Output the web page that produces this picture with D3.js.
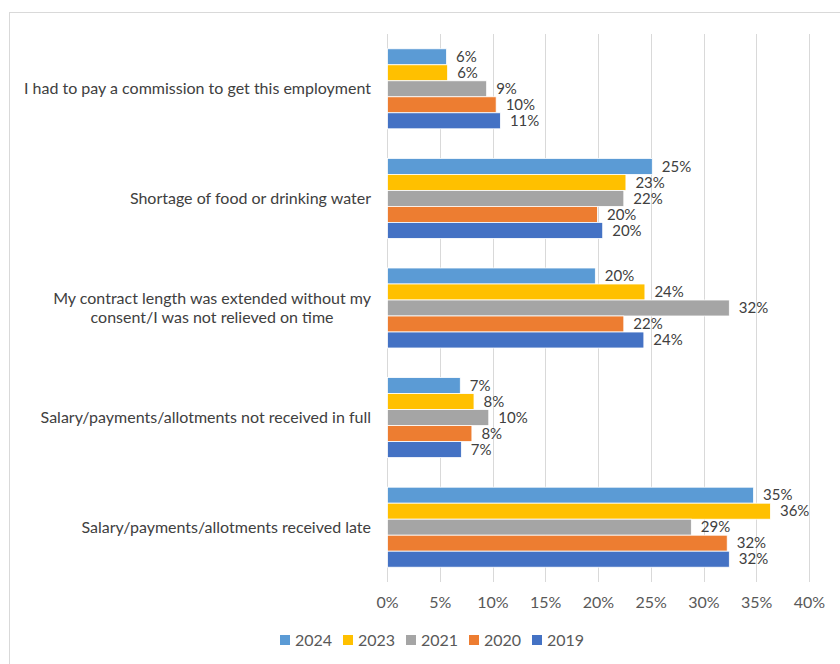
<!DOCTYPE html>
<html>
<head>
<meta charset="utf-8">
<script src="https://cdn.jsdelivr.net/npm/d3@7"></script>
<style>
  html, body { margin: 0; padding: 0; background: #fff; }
  svg { display: block; }
  text { font-family: Lato, "Open Sans", sans-serif; }
</style>
</head>
<body>
<svg id="chart" width="840" height="664"></svg>
<script>
// Reported problems, top to bottom
const categories = [
  "I had to pay a commission to get this employment",
  "Shortage of food or drinking water",
  "My contract length was extended without my\nconsent/I was not relieved on time",
  "Salary/payments/allotments not received in full",
  "Salary/payments/allotments received late"
];

// Survey years, drawn top to bottom inside each group
const years = ["2024", "2023", "2021", "2020", "2019"];

// Share of respondents (%) per category, one array per year
const v2024 = [5.6, 25.1, 19.7, 6.9, 34.7];
const v2023 = [5.7, 22.6, 24.4, 8.2, 36.3];
const v2021 = [9.4, 22.4, 32.4, 9.6, 28.8];
const v2020 = [10.3, 19.9, 22.4, 8.0, 32.2];
const v2019 = [10.7, 20.4, 24.3, 7.0, 32.4];

const xTicks = [0, 5, 10, 15, 20, 25, 30, 35, 40];
const colors = ["#5B9BD5", "#FFC000", "#A5A5A5", "#ED7D31", "#4472C4"];

const seriesValues = [v2024, v2023, v2021, v2020, v2019];
const rows = categories.map((c, i) => ({
  category: c,
  values: years.map((y, j) => ({ year: y, value: seriesValues[j][i] }))
}));

const FONT_SIZE = "16px";
const VALUE_FONT_SIZE = "15px";
const svg = d3.select("#chart");
const plot = { left: 387, right: 809, top: 34, bottom: 582 };

// Outer chart frame
svg.append("rect")
  .attr("x", 9.5).attr("y", 12.5)
  .attr("width", 840).attr("height", 700)
  .attr("fill", "#fff").attr("stroke", "#d9d9d9").attr("stroke-width", 1);

const x = d3.scaleLinear().domain([0, 40]).range([plot.left, plot.right]);
const y0 = d3.scaleBand().domain(categories).range([plot.top, plot.bottom])
  .paddingInner(0.27).paddingOuter(0.135);
const y1 = d3.scaleBand().domain(years).range([0, y0.bandwidth()]);

// Vertical gridlines
svg.append("g")
  .selectAll("line")
  .data(xTicks)
  .join("line")
  .attr("x1", d => Math.round(x(d)) + 0.5)
  .attr("x2", d => Math.round(x(d)) + 0.5)
  .attr("y1", plot.top).attr("y2", plot.bottom)
  .attr("stroke", "#d9d9d9").attr("stroke-width", 1);

// Bottom axis: tick labels only
const xAxis = svg.append("g")
  .attr("transform", `translate(0,${plot.bottom})`)
  .call(d3.axisBottom(x).tickValues(xTicks).tickFormat(d => d + "%").tickSize(0).tickPadding(15));
xAxis.select(".domain").remove();
xAxis.selectAll("text")
  .attr("fill", "#595959")
  .style("font-size", FONT_SIZE)
  .style("font-family", "Lato, 'Open Sans', sans-serif");

// Bars and value labels
const groups = svg.append("g")
  .selectAll("g")
  .data(rows)
  .join("g")
  .attr("transform", d => `translate(0,${y0(d.category)})`);

groups.selectAll("rect")
  .data(d => d.values)
  .join("rect")
  .attr("x", x(0) + 0.5)
  .attr("y", d => y1(d.year))
  .attr("width", d => x(d.value) - x(0))
  .attr("height", y1.bandwidth())
  .attr("fill", (d, i) => colors[i])
  .attr("stroke", "#fff").attr("stroke-width", 0.8);

groups.selectAll("text.val")
  .data(d => d.values)
  .join("text")
  .attr("class", "val")
  .attr("x", d => x(d.value) + 10)
  .attr("y", d => y1(d.year) + y1.bandwidth() / 2)
  .attr("dy", "0.35em")
  .attr("fill", "#404040")
  .style("font-size", VALUE_FONT_SIZE)
  .text(d => d3.format(".0f")(d.value) + "%");

// Category labels, right-aligned; wrapped labels centred on their widest line
const catLabels = svg.append("g")
  .selectAll("text")
  .data(categories)
  .join("text")
  .attr("fill", "#404040")
  .style("font-size", FONT_SIZE);

catLabels.each(function (d) {
  const lines = d.split("\n");
  const t = d3.select(this);
  const cy = y0(d) + y0.bandwidth() / 2;
  const lh = 19;
  const startY = cy - (lines.length - 1) * lh / 2;
  const tspans = lines.map((ln, i) =>
    t.append("tspan").attr("y", startY + i * lh).attr("dy", "0.35em").text(ln));
  if (lines.length === 1) {
    t.attr("text-anchor", "end");
    tspans[0].attr("x", 371);
  } else {
    const widths = tspans.map(s => s.node().getComputedTextLength());
    const center = 371 - d3.max(widths) / 2;
    t.attr("text-anchor", "middle");
    tspans.forEach(s => s.attr("x", center));
  }
});

// Legend
const legend = svg.append("g").attr("transform", "translate(280,640)");
const items = legend.selectAll("g")
  .data(years)
  .join("g")
  .attr("transform", (d, i) => `translate(${i * 63},0)`);
items.append("rect")
  .attr("x", 0).attr("y", -5).attr("width", 10).attr("height", 10)
  .attr("fill", (d, i) => colors[i]);
items.append("text")
  .attr("x", 15).attr("y", 0).attr("dy", "0.35em")
  .attr("fill", "#595959")
  .style("font-size", FONT_SIZE)
  .text(d => d);
</script>
</body>
</html>
